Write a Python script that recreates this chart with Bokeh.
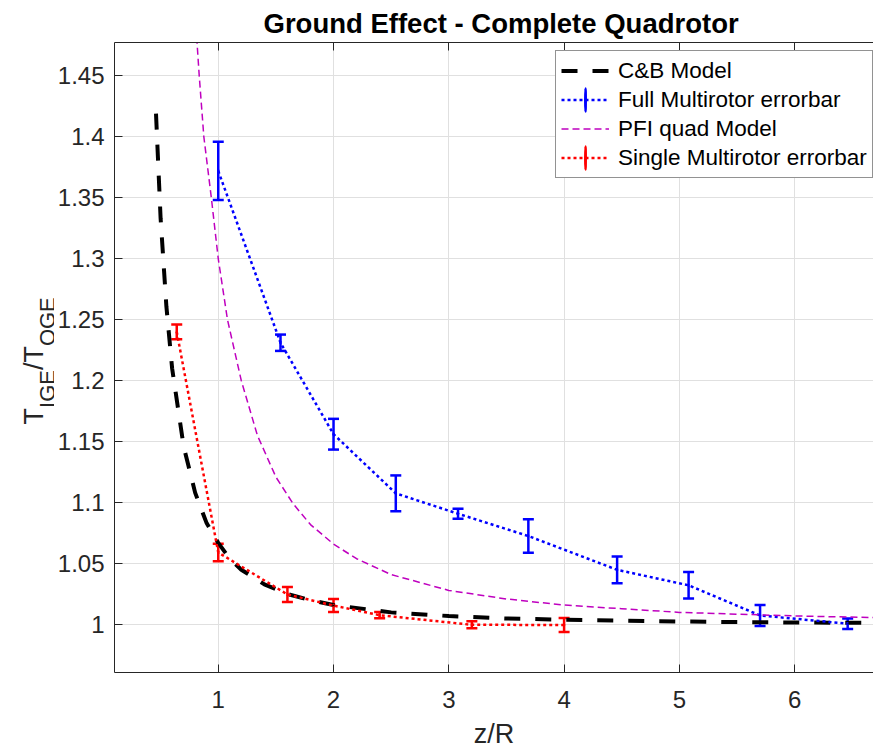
import math
from bokeh.plotting import figure
from bokeh.layouts import row
from bokeh.models import (ColumnDataSource, Whisker, TeeHead, Legend, LegendItem,
                          LinearAxis, FixedTicker, Range1d)
from bokeh.core.properties import value
from bokeh.embed import file_html
from bokeh.resources import INLINE

# ---------------- data ----------------
cb_x = [0.46, 0.50, 0.55, 0.60, 0.70, 0.80, 0.90, 1.00, 1.10, 1.20, 1.40, 1.60,
        1.80, 2.00, 2.50, 3.00, 3.50, 4.00, 5.00, 6.00, 6.70]
cb_y = [1.419, 1.333, 1.261, 1.210, 1.146, 1.108, 1.083, 1.067, 1.054, 1.045, 1.033,
        1.025, 1.020, 1.016, 1.010, 1.007, 1.005, 1.004, 1.0025, 1.0017, 1.0014]

pfi_x = [0.80, 0.835, 0.875, 0.94, 1.00, 1.08, 1.20, 1.34, 1.50, 1.65, 1.80, 2.00,
         2.20, 2.50, 3.00, 3.50, 4.00, 4.50, 5.00, 6.00, 6.70]
pfi_y = [1.50, 1.45, 1.40, 1.35, 1.30, 1.25, 1.20, 1.155, 1.121, 1.099, 1.082, 1.066,
         1.054, 1.041, 1.028, 1.021, 1.016, 1.013, 1.010, 1.0071, 1.0057]

full_x = [1.00, 1.54, 2.00, 2.54, 3.08, 3.69, 4.46, 5.08, 5.70, 6.46]
full_y = [1.372, 1.2311, 1.1561, 1.1076, 1.0909, 1.0726, 1.0449, 1.0322, 1.0075, 1.0007]
full_err = [0.0239, 0.0067, 0.0126, 0.0147, 0.0041, 0.0137, 0.0110, 0.0109, 0.0086, 0.0043]

single_x = [0.64, 1.00, 1.60, 2.00, 2.40, 3.20, 4.00]
single_y = [1.240, 1.0591, 1.0247, 1.0156, 1.0077, 0.9998, 0.9997]
single_err = [0.0060, 0.0072, 0.0061, 0.0053, 0.0026, 0.0029, 0.0057]

x_ticks = [1, 2, 3, 4, 5, 6]
x_tick_labels = ["1", "2", "3", "4", "5", "6"]
y_ticks = [1, 1.05, 1.1, 1.15, 1.2, 1.25, 1.3, 1.35, 1.4, 1.45]
y_tick_labels = ["1", "1.05", "1.1", "1.15", "1.2", "1.25", "1.3", "1.35", "1.4", "1.45"]

title_text = "Ground Effect - Complete Quadrotor"
x_label = "z/R"
# y label  T_IGE / T_OGE  split into main text and subscripts
ylabel_text = ["T", "IGE", "/", "T", "OGE"]
ylabel_is_sub = [False, True, False, False, True]
series_names = ["C&B Model", "Full Multirotor errorbar", "PFI quad Model",
                "Single Multirotor errorbar"]

FONT = "Liberation Sans"
AX = "#262626"
GRID = "#e0e0e0"
W_LAB = 54          # width of the strip that carries the y label
H = 751
FRAME_TOP, FRAME_BOTTOM = 41.7, 672.3   # page rows of the plot frame

X0, X1 = 0.1, 6.684
Y0, Y1 = 0.9607, 1.4773

# ---------------- y-label strip ----------------
# the row layout aligns this strip's frame with the main frame, so its y range is
# expressed in page rows counted from the bottom of the page
lab = figure(width=W_LAB, height=H, output_backend="svg", toolbar_location=None,
             x_range=Range1d(0, W_LAB), y_range=Range1d(H - FRAME_BOTTOM, H - FRAME_TOP),
             x_axis_type=None, y_axis_type=None, min_border=0)
lab.outline_line_color = None
lab.grid.visible = False
MAIN_FS, SUB_FS = 27, 22
main_base, sub_base = 33.3, 46.7
adv = {"T": 0.611, "IGE": 1.723, "/": 0.278, "OGE": 2.223}   # Arial advance widths (em)
pos_y, pos_x, sizes = [], [], []
cur = 424.0   # page row where the label starts
for t, sub in zip(ylabel_text, ylabel_is_sub):
    fs = SUB_FS if sub else MAIN_FS
    pos_y.append(H - cur)
    pos_x.append(sub_base if sub else main_base)
    sizes.append(f"{fs}px")
    cur -= adv[t] * fs
lab.text(x=pos_x, y=pos_y, text=ylabel_text, angle=math.pi / 2, angle_units="rad",
         text_font=value(FONT), text_font_size=sizes, text_color=AX,
         text_align="left", text_baseline="alphabetic")

# ---------------- main plot ----------------
p = figure(width=873 - W_LAB, height=H, output_backend="svg", toolbar_location=None,
           x_range=Range1d(X0, X1), y_range=Range1d(Y0, Y1),
           min_border_left=114 - W_LAB, min_border_right=0, min_border_top=42,
           min_border_bottom=79)
p.outline_line_color = None
p.background_fill_color = "white"
p.border_fill_color = "white"

p.title.text = title_text
p.title.text_font = FONT
p.title.text_font_size = "27.5px"
p.title.text_font_style = "bold"
p.title.text_color = "black"
p.title.align = "left"
p.title.offset = 149
p.title.standoff = 7

xt = FixedTicker(ticks=x_ticks)
yt = FixedTicker(ticks=y_ticks)

xa = p.xaxis[0]
xa.ticker = xt
xa.major_label_overrides = dict(zip(x_ticks, x_tick_labels))
ya = p.yaxis[0]
ya.ticker = yt
ya.major_label_overrides = dict(zip(y_ticks, y_tick_labels))
for ax in (xa, ya):
    ax.axis_line_color = AX
    ax.axis_line_width = 1
    ax.major_tick_line_color = AX
    ax.major_tick_in = 8
    ax.major_tick_out = 0
    ax.minor_tick_line_color = None
    ax.major_label_text_font = FONT
    ax.major_label_text_font_size = "24px"
    ax.major_label_text_color = AX
ya.major_label_standoff = 10
xa.major_label_standoff = 18
xa.axis_label = x_label
xa.axis_label_text_font = FONT
xa.axis_label_text_font_size = "27px"
xa.axis_label_text_font_style = "normal"
xa.axis_label_text_color = AX
xa.axis_label_standoff = 8

top = LinearAxis(ticker=FixedTicker(ticks=x_ticks),
                 major_label_overrides={t: "" for t in x_ticks},
                 major_label_text_font_size="1px", major_label_standoff=0,
                 axis_line_color=AX, major_tick_line_color=AX,
                 major_tick_in=8, major_tick_out=0, minor_tick_line_color=None)
p.add_layout(top, "above")

p.xgrid.ticker = xt
p.ygrid.ticker = yt
p.xgrid.grid_line_color = GRID
p.ygrid.grid_line_color = GRID

# ---------------- series ----------------
r_cb = p.line(cb_x, cb_y, line_color="black", line_width=4, line_dash="16 15")

full_src = ColumnDataSource(dict(x=full_x, y=full_y,
                                 lo=[m - e for m, e in zip(full_y, full_err)],
                                 hi=[m + e for m, e in zip(full_y, full_err)]))
r_full = p.line("x", "y", source=full_src, line_color="blue", line_width=2.5,
                line_dash="3 3")
p.add_layout(Whisker(base="x", lower="lo", upper="hi", source=full_src,
                     line_color="blue", line_width=2.5,
                     lower_head=TeeHead(size=11, line_color="blue", line_width=2.5),
                     upper_head=TeeHead(size=11, line_color="blue", line_width=2.5)))
# very narrow ellipses at the means: hidden under the bars, but they give the
# legend its vertical error-bar sign
r_full_bar = p.ellipse("x", "y", source=full_src, width=0.02, height=1,
                       width_units="screen", height_units="screen",
                       fill_color=None, line_color="blue", line_width=2.5)

r_pfi = p.line(pfi_x, pfi_y, line_color="#bf00bf", line_width=1.5, line_dash="7 4")

single_src = ColumnDataSource(dict(x=single_x, y=single_y,
                                   lo=[m - e for m, e in zip(single_y, single_err)],
                                   hi=[m + e for m, e in zip(single_y, single_err)]))
r_single = p.line("x", "y", source=single_src, line_color="red", line_width=2.5,
                  line_dash="3 3")
p.add_layout(Whisker(base="x", lower="lo", upper="hi", source=single_src,
                     line_color="red", line_width=2.5,
                     lower_head=TeeHead(size=11, line_color="red", line_width=2.5),
                     upper_head=TeeHead(size=11, line_color="red", line_width=2.5)))
r_single_bar = p.ellipse("x", "y", source=single_src, width=0.02, height=1,
                         width_units="screen", height_units="screen",
                         fill_color=None, line_color="red", line_width=2.5)

legend = Legend(items=[
    LegendItem(label=series_names[0], renderers=[r_cb]),
    LegendItem(label=series_names[1], renderers=[r_full, r_full_bar]),
    LegendItem(label=series_names[2], renderers=[r_pfi]),
    LegendItem(label=series_names[3], renderers=[r_single, r_single_bar]),
], location=(441, 494))
legend.label_text_font = FONT
legend.label_text_font_size = "22.5px"
legend.label_text_color = "black"
legend.border_line_color = AX
legend.border_line_width = 1
legend.background_fill_color = "white"
legend.background_fill_alpha = 1
legend.padding = 5
legend.spacing = 0
legend.margin = 0
legend.glyph_width = 48
legend.glyph_height = 29
legend.label_height = 29
legend.label_standoff = 9
p.add_layout(legend)

layout = row(lab, p, spacing=0)
open("out.html", "w").write(file_html(layout, INLINE))
